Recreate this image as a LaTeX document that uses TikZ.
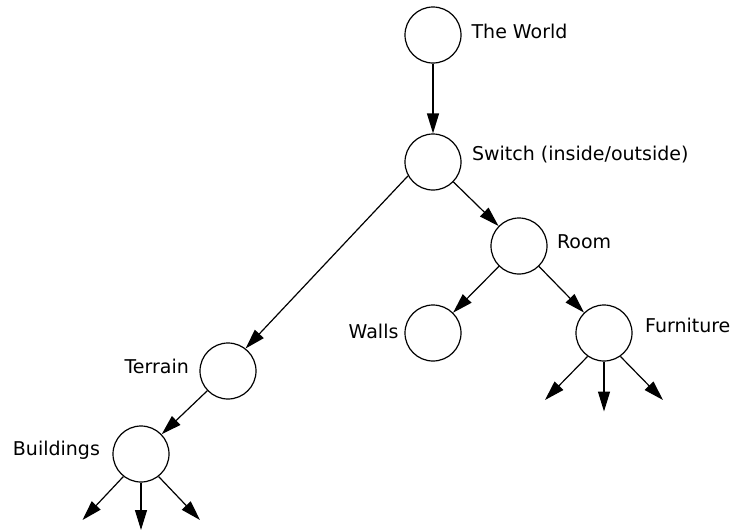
\documentclass[tikz,border=0pt]{standalone}
\usepackage{fontspec}
\setmainfont{DejaVu Sans}
\usetikzlibrary{arrows.meta}
\begin{document}
\begin{tikzpicture}[x=1pt,y=-1pt,line width=1.2pt,>={Triangle[length=20pt,width=12pt]},
    state/.style={circle,draw,minimum size=56pt,inner sep=0pt},
    tag/.style={inner sep=0pt,font=\fontsize{19}{23}\selectfont}]
            \useasboundingbox (0,0) rectangle (733,531);

            \draw (433,35) node (world) [state] {};
            \draw (433,162) node (switch) [state] {};
            \draw (519,246) node (room) [state] {};
            \draw (433,333) node (walls) [state] {};
            \draw (604,333) node (furniture) [state] {};
            \draw (228,371) node (terrain) [state] {};
            \draw (141,454) node (buildings) [state] {};

            \draw (471,38) node (worldtxt) [tag,anchor=base west] {The World};
            \draw (471.5,160) node (switchtxt) [tag,anchor=base west] {Switch (inside/outside)};
            \draw (556.5,248.5) node (roomtxt) [tag,anchor=base west] {Room};
            \draw (399,338.5) node (wallstxt) [tag,anchor=base east] {Walls};
            \draw (644.5,332.5) node (furnituretxt) [tag,anchor=base west] {Furniture};
            \draw (189.5,373.5) node (terraintxt) [tag,anchor=base east] {Terrain};
            \draw (100.5,455) node (buildingstxt) [tag,anchor=base east] {Buildings};

            \coordinate (f1) at (545,400);
            \coordinate (f2) at (604,411.5);
            \coordinate (f3) at (663,400);
            \coordinate (b1) at (82.5,520);
            \coordinate (b2) at (141,530);
            \coordinate (b3) at (200,520);

            \draw [->] (world) to (switch);
            \draw [->] (switch) to (room);
            \draw [->] (switch.209) to (terrain.52);
            \draw [->] (room) to (walls);
            \draw [->] (room) to (furniture);
            \draw [->] (terrain) to (buildings);

            \draw [->] (furniture.235) to (f1);
            \draw [->] (furniture.south) to (f2);
            \draw [->] (furniture.305) to (f3);
            \draw [->] (buildings.232) to (b1);
            \draw [->] (buildings.south) to (b2);
            \draw [->] (buildings.308) to (b3);
        \end{tikzpicture}
\end{document}
